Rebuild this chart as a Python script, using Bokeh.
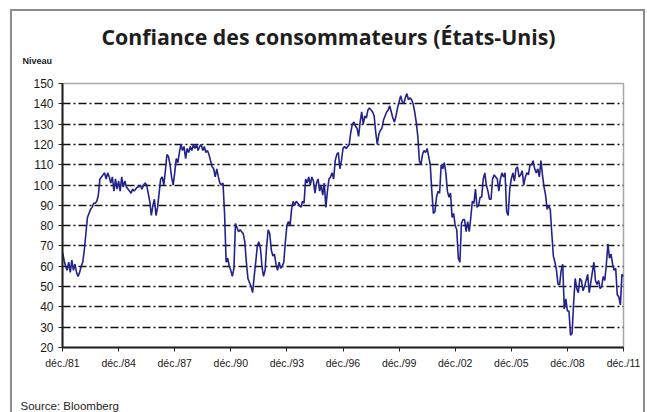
from bokeh.plotting import figure
from bokeh.models import Range1d, FixedTicker, Label
from bokeh.layouts import column
from bokeh.embed import file_html
from bokeh.resources import INLINE

# Conference Board consumer confidence, monthly, déc. 1981 -> déc. 2011
conf_1980s = [67,
    63, 60, 58, 62, 57, 63, 58, 61, 57, 55, 57, 60,
    62, 68, 76, 84, 86, 88, 89, 91, 91, 92, 95, 103,
    104, 105, 106, 103, 106, 104, 101, 104, 97, 103, 98, 102,
    97, 104, 99, 102, 99, 98, 97, 96, 98, 97, 98, 99,
    99, 100, 98, 100, 101, 100, 96, 92, 85, 90, 93, 85,
    89, 96, 103, 104, 100, 107, 115, 114, 110, 104, 100, 106,
    113, 111, 116, 120, 117, 119, 113, 118, 116, 119, 117, 120,
    118, 120, 117, 119, 120, 117, 119, 116, 117, 115, 112, 109]
conf_1990s = [
    108, 104, 108, 104, 101, 100, 101, 86, 62, 64, 60, 58,
    55, 59, 81, 79, 77, 78, 77, 76, 72, 62, 54, 52,
    50, 47, 55, 62, 70, 72, 69, 60, 55, 58, 70, 78,
    76, 68, 65, 66, 61, 58, 62, 59, 60, 62, 72, 80,
    82, 80, 88, 92, 90, 92, 91, 90, 89, 92, 91, 103,
    101, 104, 100, 104, 102, 96, 101, 103, 97, 100, 95, 101,
    89, 97, 103, 104, 106, 103, 112, 115, 116, 108, 112, 118,
    119, 118, 119, 120, 126, 130, 131, 129, 128, 124, 131, 136,
    130, 134, 133, 137, 138, 137, 136, 134, 126, 120, 125, 127,
    128, 132, 134, 136, 137, 139, 136, 133, 131, 134, 138, 141]
conf_2000s = [
    144, 141, 140, 143, 145, 142, 143, 142, 140, 136, 131, 124,
    112, 110, 115, 117, 116, 118, 114, 110, 97, 86, 87, 94,
    97, 96, 110, 108, 111, 106, 97, 94, 96, 84, 86, 80,
    78, 64, 62, 81, 83, 83, 77, 82, 77, 84, 92, 91,
    98, 89, 90, 94, 94, 103, 106, 100, 97, 93, 93, 103,
    105, 104, 103, 97, 103, 106, 104, 106, 87, 85, 98, 103,
    106, 102, 108, 109, 104, 105, 107, 100, 104, 106, 105, 110,
    110, 112, 108, 106, 108, 104, 112, 105, 99, 95, 88, 90,
    88, 76, 65, 62, 58, 51, 51, 58, 61, 39, 44, 38,
    38, 26, 27, 42, 54, 49, 47, 54, 53, 48, 50, 53]
conf_2010s = [
    56, 47, 52, 57, 62, 53, 51, 53, 49, 50, 55, 53,
    61, 71, 64, 66, 61, 58, 59, 46, 45, 41, 56, 55]

x_tick_labels = ["déc./81", "déc./84", "déc./87", "déc./90", "déc./93", "déc./96",
                 "déc./99", "déc./02", "déc./05", "déc./08", "déc./11"]
months_between_ticks = 36
y_ticks = [20, 30, 40, 50, 60, 70, 80, 90, 100, 110, 120, 130, 140, 150]

values = conf_1980s + conf_1990s + conf_2000s + conf_2010s
months = list(range(len(values)))
x_ticks = [i * months_between_ticks for i in range(len(x_tick_labels))]

W = 631


def text_strip(height):
    f = figure(width=W, height=height, output_backend="svg", toolbar_location=None,
               x_axis_type=None, y_axis_type=None,
               x_range=Range1d(0, 1), y_range=Range1d(0, 1), min_border=0,
               background_fill_color="white", border_fill_color="white")
    f.outline_line_color = None
    f.grid.visible = False
    return f


header = text_strip(64)
footer = text_strip(37)
try:
    header.frame_align = False
    footer.frame_align = False
    dx = 0
except AttributeError:
    dx = -50

# header: title + "Niveau" (label coordinates in px from the strip's bottom-left)
header.add_layout(Label(x=316 + dx, y=39, x_units="screen", y_units="screen",
                        text="Confiance des consommateurs (États-Unis)",
                        text_font="Open Sans", text_font_style="bold", text_font_size="21.3px",
                        text_color="#1e1e1e", text_align="center", text_baseline="middle"))
header.add_layout(Label(x=10 + dx, y=15, x_units="screen", y_units="screen",
                        text="Niveau", text_font="Liberation Sans", text_font_style="bold",
                        text_font_size="9px", text_color="#222222",
                        text_align="left", text_baseline="middle"))

# main chart
p = figure(width=W, height=300, output_backend="svg", toolbar_location=None,
           x_range=Range1d(0, months[-1]), y_range=Range1d(y_ticks[0], y_ticks[-1]),
           min_border_left=50, min_border_right=20, min_border_top=8, min_border_bottom=28,
           background_fill_color="white", border_fill_color="white")

p.line(months, values, line_color="#22228c", line_width=1.6)

p.outline_line_color = "#a8a8a8"
p.outline_line_width = 1.5

p.xgrid.grid_line_color = None
p.ygrid.grid_line_color = "#111111"
p.ygrid.grid_line_dash = "8 3 2 3"
p.ygrid.grid_line_width = 1.3

p.yaxis.ticker = FixedTicker(ticks=y_ticks)
p.xaxis.ticker = FixedTicker(ticks=x_ticks)
p.xaxis.major_label_overrides = {t: lab for t, lab in zip(x_ticks, x_tick_labels)}

for ax in (p.xaxis, p.yaxis):
    ax.axis_line_color = "#222222"
    ax.axis_line_width = 2
    ax.major_tick_line_color = "#222222"
    ax.major_tick_line_width = 1
    ax.major_tick_in = 0
    ax.major_tick_out = 4
    ax.minor_tick_line_color = None
    ax.major_label_text_font = "Liberation Sans"
    ax.major_label_text_color = "#1a1a1a"

p.yaxis.major_label_text_font_size = "12px"
p.yaxis.major_label_standoff = 5
p.xaxis.major_label_text_font_size = "10.5px"
p.xaxis.major_label_standoff = 5

# footer: source
footer.add_layout(Label(x=8 + dx, y=7, x_units="screen", y_units="screen",
                        text="Source: Bloomberg", text_font="Liberation Sans",
                        text_font_size="11.5px", text_color="#222222",
                        text_align="left", text_baseline="middle"))

page = column(header, p, footer, spacing=0, margin=(11, 0, 0, 12),
              styles={"outline": "2px solid #8c8c8c"})

open("out.html", "w").write(file_html(page, INLINE))
